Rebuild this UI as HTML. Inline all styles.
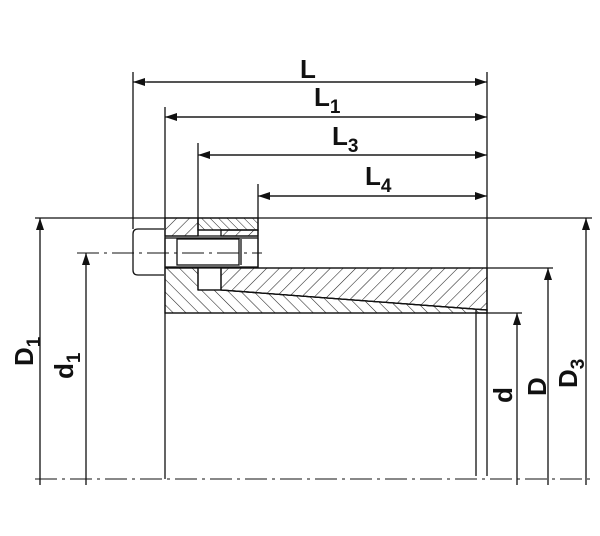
<!DOCTYPE html>
<html><head><meta charset="utf-8"><style>
html,body{margin:0;padding:0;background:#fff}
svg{display:block}
text{font-family:"Liberation Sans",Arial,sans-serif;font-weight:bold;fill:#111}
</style></head><body>
<svg width="600" height="536" viewBox="0 0 600 536" xmlns="http://www.w3.org/2000/svg">
<defs>
<pattern id="hf" width="9" height="9" patternUnits="userSpaceOnUse" patternTransform="rotate(45)"><line x1="0" y1="0" x2="0" y2="9" stroke="#222" stroke-width="1.1"/></pattern>
<pattern id="hb" width="9" height="9" patternUnits="userSpaceOnUse" patternTransform="rotate(-45)"><line x1="0" y1="0" x2="0" y2="9" stroke="#222" stroke-width="1.1"/></pattern>
<pattern id="hbd" width="6" height="6" patternUnits="userSpaceOnUse" patternTransform="rotate(-45)"><line x1="0" y1="0" x2="0" y2="6" stroke="#222" stroke-width="1"/></pattern>
<marker id="a" markerWidth="12" markerHeight="8" refX="12" refY="4" orient="auto" markerUnits="userSpaceOnUse"><path d="M0,0 L12,4 L0,8 Z" fill="#111"/></marker>
</defs>
<g stroke="#111" stroke-width="1.3" fill="none">
<rect x="165" y="218" width="33" height="18" fill="url(#hf)"/>
<rect x="198" y="218" width="60" height="12" fill="url(#hbd)"/>
<rect x="221" y="230" width="37" height="6" fill="url(#hf)"/>
<polygon points="165,268 198,268 198,290 221,290 487,310 487,313 165,313" fill="url(#hb)"/>
<polygon points="221,268 487,268 487,310 221,290" fill="url(#hf)"/>
<line x1="165" y1="236" x2="258" y2="236"/>
<line x1="198" y1="218" x2="198" y2="236"/>
<line x1="198" y1="230" x2="258" y2="230"/>
<line x1="258" y1="218" x2="258" y2="268"/>
<rect x="165" y="238" width="93" height="29"/>
<rect x="177" y="239" width="62" height="26"/>
<line x1="241" y1="239" x2="241" y2="265"/>
<path d="M164,229 H138 Q133,229 133,234 V270 Q133,275 138,275 H164"/>
<line x1="165" y1="268" x2="487" y2="268"/>
<line x1="198" y1="268" x2="198" y2="290"/>
<line x1="221" y1="268" x2="221" y2="290"/>
<line x1="198" y1="290" x2="221" y2="290"/>
<line x1="221" y1="290" x2="487" y2="310"/>
<line x1="165" y1="313" x2="487" y2="313"/>
<line x1="133" y1="72" x2="133" y2="229"/>
<line x1="165" y1="107" x2="165" y2="479"/>
<line x1="198" y1="143" x2="198" y2="218"/>
<line x1="258" y1="184" x2="258" y2="218"/>
<line x1="487" y1="72" x2="487" y2="476"/>
<line x1="476" y1="310" x2="476" y2="476"/>
<line x1="35" y1="218" x2="592" y2="218"/>
<line x1="487" y1="268" x2="553" y2="268"/>
<line x1="476" y1="313" x2="522" y2="313"/>
<line x1="147" y1="82" x2="487" y2="82" marker-end="url(#a)"/>
<line x1="475" y1="82" x2="133" y2="82" marker-end="url(#a)"/>
<line x1="177" y1="117" x2="487" y2="117" marker-end="url(#a)"/>
<line x1="475" y1="117" x2="165" y2="117" marker-end="url(#a)"/>
<line x1="210" y1="155" x2="487" y2="155" marker-end="url(#a)"/>
<line x1="475" y1="155" x2="198" y2="155" marker-end="url(#a)"/>
<line x1="270" y1="196" x2="487" y2="196" marker-end="url(#a)"/>
<line x1="475" y1="196" x2="258" y2="196" marker-end="url(#a)"/>
<line x1="40" y1="485" x2="40" y2="218" marker-end="url(#a)"/>
<line x1="86" y1="485" x2="86" y2="253" marker-end="url(#a)"/>
<line x1="517" y1="485" x2="517" y2="313" marker-end="url(#a)"/>
<line x1="548" y1="485" x2="548" y2="268" marker-end="url(#a)"/>
<line x1="586" y1="485" x2="586" y2="218" marker-end="url(#a)"/>
</g>
<g stroke="#111" stroke-width="1.1" fill="none" stroke-dasharray="22,5,3,5">
<line x1="77" y1="253" x2="262" y2="253"/>
<line x1="35" y1="479" x2="590" y2="479"/>
</g>
<text x="300" y="78" font-size="26">L</text>
<text x="314" y="106" font-size="26">L<tspan font-size="19" dy="7">1</tspan></text>
<text x="332" y="145" font-size="26">L<tspan font-size="19" dy="7">3</tspan></text>
<text x="365" y="185" font-size="26">L<tspan font-size="19" dy="7">4</tspan></text>
<text transform="translate(33,366) rotate(-90)" font-size="26">D<tspan font-size="19" dy="7">1</tspan></text>
<text transform="translate(73,379) rotate(-90)" font-size="26">d<tspan font-size="19" dy="7">1</tspan></text>
<text transform="translate(512,403) rotate(-90)" font-size="26">d</text>
<text transform="translate(546,396) rotate(-90)" font-size="26">D</text>
<text transform="translate(577,388) rotate(-90)" font-size="26">D<tspan font-size="19" dy="7">3</tspan></text>
</svg>
</body></html>
